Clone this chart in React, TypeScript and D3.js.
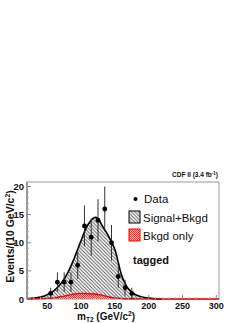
import React from "react";
import * as d3 from "d3";

// binned data points (bin centres, counts)
const binCenters = [55, 65, 75, 85, 95, 105, 115, 125, 135, 145, 155, 165, 175];
const counts = [1, 3, 3, 3, 6, 13, 11, 14, 16, 10, 4, 2, 1];

// smooth signal+background curve
const sigX = [20, 30, 40, 50, 60, 70, 80, 90, 100, 110, 120, 125, 130, 140, 150, 155, 160, 165, 170, 180, 190, 200, 210, 220];
const sigY = [0.05, 0.15, 0.35, 0.75, 1.5, 2.7, 4.6, 7.3, 10.4, 13.2, 14.5, 14.3, 13.3, 11.3, 8.8, 6.5, 4.2, 2.8, 1.8, 0.8, 0.35, 0.15, 0.05, 0.0];

// background only
const bkgX = [20, 40, 60, 70, 80, 90, 100, 110, 120, 130, 140, 150, 160, 180, 200, 250, 304];
const bkgY = [0.03, 0.08, 0.2, 0.4, 0.65, 0.9, 1.0, 0.95, 0.9, 0.7, 0.4, 0.2, 0.1, 0.04, 0.02, 0.01, 0];

const xTicks = [50, 100, 150, 200, 250, 300];
const yTicks = [0, 5, 10, 15, 20];

export default function App() {
  const W = 249;
  const H = 323;
  const left = 27, right = 219, top = 182, bottom = 299;

  const x = d3.scaleLinear().domain([20, 304]).range([left, right]);
  const y = d3.scaleLinear().domain([0, 20.8]).range([bottom, top]);

  const area = d3
    .area<[number, number]>()
    .x((d) => x(d[0]))
    .y0(y(0))
    .y1((d) => y(d[1]))
    .curve(d3.curveCatmullRom);
  const line = d3
    .line<[number, number]>()
    .x((d) => x(d[0]))
    .y((d) => y(d[1]))
    .curve(d3.curveCatmullRom);

  const sig: [number, number][] = sigX.map((v, i) => [v, sigY[i]]);
  const bkg: [number, number][] = bkgX.map((v, i) => [v, bkgY[i]]);

  const minorX = d3.range(30, 301, 10).filter((v) => v % 50 !== 0);
  const minorY = d3.range(1, 21, 1).filter((v) => v % 5 !== 0);

  const font = "'Liberation Sans', Arial, sans-serif";

  return (
    <svg
      width={W}
      height={H}
      style={{ position: "absolute", left: 0, top: 0, background: "white" }}
      fontFamily={font}
    >
      <defs>
        <pattern id="hatch" patternUnits="userSpaceOnUse" width={3.5} height={3.5}>
          <path d="M-1,-1 L4.5,4.5 M2.5,-1 L4.5,1 M-1,2.5 L1,4.5" stroke="#555" strokeWidth={0.9} />
        </pattern>
        <pattern id="xhatch" patternUnits="userSpaceOnUse" width={2} height={2}>
          <rect width={2} height={2} fill="#ffb3b3" />
          <rect width={1} height={1} fill="#ff3030" />
          <rect x={1} y={1} width={1} height={1} fill="#ff3030" />
        </pattern>
      </defs>

      {/* frame */}
      <rect x={left} y={top} width={right - left} height={bottom - top} fill="none" stroke="#999" strokeWidth={1} />

      {/* signal + background */}
      <path d={area(sig) ?? ""} fill="url(#hatch)" />
      <path d={line(sig) ?? ""} fill="none" stroke="black" strokeWidth={1.6} />

      {/* background only */}
      <path d={area(bkg) ?? ""} fill="url(#xhatch)" />
      <path d={line(bkg) ?? ""} fill="none" stroke="#ee0000" strokeWidth={1.4} />

      {/* axes */}
      <line x1={left} x2={left} y1={top} y2={bottom} stroke="#666" />
      {xTicks.map((t) => (
        <g key={"x" + t}>
          <line x1={x(t)} x2={x(t)} y1={bottom} y2={bottom - 4} stroke="#888" />
          <text x={x(t)} y={bottom + 9.5} textAnchor="middle" fontSize={9} fontWeight="bold" fill="#111">
            {t}
          </text>
        </g>
      ))}
      {minorX.map((t) => (
        <line key={"mx" + t} x1={x(t)} x2={x(t)} y1={bottom} y2={bottom - 2} stroke="#aaa" />
      ))}
      {yTicks.map((t) => (
        <g key={"y" + t}>
          <line x1={left} x2={left + 4} y1={y(t)} y2={y(t)} stroke="#888" />
          <text x={left - 3} y={y(t) + 3.5} textAnchor="end" fontSize={9.5} fontWeight="bold" fill="#111">
            {t}
          </text>
        </g>
      ))}
      {minorY.map((t) => (
        <line key={"my" + t} x1={left} x2={left + 2} y1={y(t)} y2={y(t)} stroke="#aaa" />
      ))}

      {/* data points */}
      {binCenters.map((c, i) => {
        const n = counts[i];
        const e = Math.sqrt(n);
        return (
          <g key={"d" + c}>
            <line x1={x(c)} x2={x(c)} y1={y(n + e)} y2={y(Math.max(0, n - e))} stroke="#333" strokeWidth={1} />
            <circle cx={x(c)} cy={y(n)} r={2.4} fill="black" />
          </g>
        );
      })}

      {/* axis titles */}
      <text
        transform={`translate(14,${(top + bottom) / 2 - 4}) rotate(-90)`}
        textAnchor="middle"
        fontSize={10.5}
        fontWeight="bold"
        fill="#111"
      >
        Events/(10 GeV/c
        <tspan dy={-4} fontSize={7}>2</tspan>
        <tspan dy={4}>)</tspan>
      </text>
      <text x={106} y={319.5} textAnchor="middle" fontSize={10} fontWeight="bold" fill="#111">
        m<tspan dy={2.5} fontSize={6.5}>T2</tspan>
        <tspan dy={-2.5}> (GeV/c</tspan>
        <tspan dy={-3.5} fontSize={6.5}>2</tspan>
        <tspan dy={3.5}>)</tspan>
      </text>

      {/* CDF label */}
      <text x={218} y={177} textAnchor="end" fontSize={6.5} fontWeight="bold" fill="#111">
        CDF II (3.4 fb
        <tspan dy={-2.5} fontSize={4.5}>-1</tspan>
        <tspan dy={2.5}>)</tspan>
      </text>

      {/* legend */}
      <circle cx={135.5} cy={199} r={2} fill="black" />
      <text x={144} y={203} fontSize={11.5} fill="#111">Data</text>
      <rect x={129} y={211} width={11} height={12} fill="url(#hatch)" stroke="black" strokeWidth={1} />
      <text x={143} y={221.5} fontSize={11.5} fill="#111">Signal+Bkgd</text>
      <rect x={129} y={229} width={11} height={12} fill="url(#xhatch)" stroke="#ee0000" strokeWidth={1} />
      <text x={143} y={239.5} fontSize={11.5} fill="#111">Bkgd only</text>

      <text x={133} y={264} fontSize={11} fontWeight="bold" fill="#111">tagged</text>
    </svg>
  );
}
